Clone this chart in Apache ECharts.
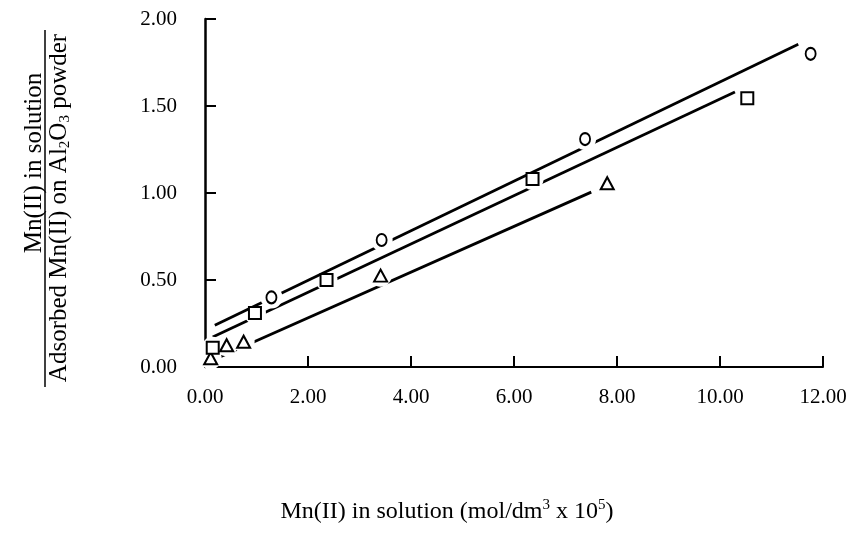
<!DOCTYPE html>
<html>
<head>
<meta charset="utf-8">
<script src="https://cdn.jsdelivr.net/npm/echarts/dist/echarts.min.js"></script>
<style>
  html, body { margin: 0; padding: 0; background: #fff; }
  #chart { width: 854px; height: 541px; }
</style>
</head>
<body>
<div id="chart"></div>
<script>
// 测量点（读图估值）
const circleX = [1.29, 3.43, 7.38, 11.76];
const circleY = [0.40, 0.73, 1.31, 1.80];
const squareX = [0.15, 0.97, 2.36, 6.36, 10.53];
const squareY = [0.11, 0.31, 0.50, 1.08, 1.545];
const triX = [0.11, 0.42, 0.75, 3.41, 7.81];
const triY = [0.05, 0.125, 0.145, 0.525, 1.056];

// 拟合直线端点
const circleFitX = [0.19, 11.52];
const circleFitY = [0.24, 1.855];
const squareFitX = [0.15, 10.29];
const squareFitY = [0.173, 1.58];
const triFitX = [0.19, 7.50];
const triFitY = [0.045, 1.005];

// 刻度
const xTicks = [0, 2, 4, 6, 8, 10, 12];
const yTicks = [0, 0.5, 1, 1.5, 2];

const FONT = 'Liberation Serif, Times New Roman, serif';

function pairs(xs, ys) {
    return xs.map((x, i) => [x, ys[i]]);
}

function fitLine(xs, ys, z) {
    return {
        type: 'line',
        z: z,
        data: pairs(xs, ys),
        symbol: 'none',
        silent: true,
        lineStyle: { color: '#000', width: 2.8 }
    };
}

// 白色光晕, 让直线在点附近断开
function halo(xs, ys, z) {
    return {
        type: 'scatter',
        z: z,
        data: pairs(xs, ys),
        symbol: 'circle',
        symbolSize: 22,
        silent: true,
        itemStyle: { color: '#fff', borderWidth: 0, opacity: 1 }
    };
}

function marker(xs, ys, symbol, size) {
    return {
        type: 'scatter',
        z: 20,
        data: pairs(xs, ys),
        symbol: symbol,
        symbolSize: size,
        silent: true,
        itemStyle: { color: '#fff', borderColor: '#000', borderWidth: 2, opacity: 1 }
    };
}

const chart = echarts.init(document.getElementById('chart'));

const option = {
    animation: false,
    backgroundColor: '#fff',
    grid: { left: 205, right: 31, top: 19, bottom: 174, containLabel: false },
    xAxis: {
        type: 'value',
        min: xTicks[0],
        max: xTicks[xTicks.length - 1],
        interval: 2,
        name: 'Mn(II) in solution (mol/dm{sup|3} x 10{sup|5})',
        nameLocation: 'middle',
        nameGap: 131,
        nameTextStyle: {
            color: '#000', fontFamily: FONT, fontSize: 24,
            padding: [0, 134, 0, 0],
            rich: { sup: { fontFamily: FONT, fontSize: 15, color: '#000', verticalAlign: 'top', lineHeight: 28 } }
        },
        axisLine: { show: true, lineStyle: { color: '#000', width: 2 } },
        axisTick: { show: true, inside: true, length: 11, lineStyle: { color: '#000', width: 2 } },
        axisLabel: {
            color: '#000', fontFamily: FONT, fontSize: 21, margin: 20,
            formatter: v => v.toFixed(2)
        },
        splitLine: { show: false }
    },
    yAxis: {
        type: 'value',
        min: yTicks[0],
        max: yTicks[yTicks.length - 1],
        interval: 0.5,
        axisLine: { show: true, lineStyle: { color: '#000', width: 2.5 } },
        axisTick: { show: true, inside: true, length: 11, lineStyle: { color: '#000', width: 2 } },
        axisLabel: {
            color: '#000', fontFamily: FONT, fontSize: 21, margin: 28,
            formatter: v => v.toFixed(2)
        },
        splitLine: { show: false }
    },
    graphic: [
        {
            type: 'text',
            x: 34, y: 163,
            rotation: Math.PI / 2,
            style: {
                text: 'Mn(II) in solution',
                fontFamily: FONT, fontSize: 25, fill: '#000',
                align: 'center', verticalAlign: 'middle'
            }
        },
        {
            type: 'line',
            shape: { x1: 45, y1: 30, x2: 45, y2: 387 },
            style: { stroke: '#000', lineWidth: 1.5 }
        },
        {
            type: 'text',
            x: 59, y: 208,
            rotation: Math.PI / 2,
            style: {
                text: 'Adsorbed Mn(II) on Al{sub|2}O{sub|3} powder',
                fontFamily: FONT, fontSize: 25, fill: '#000',
                align: 'center', verticalAlign: 'middle',
                rich: { sub: { fontFamily: FONT, fontSize: 15, fill: '#000', verticalAlign: 'bottom', lineHeight: 28 } }
            }
        }
    ],
    series: [
        fitLine(triFitX, triFitY, 3),
        halo(triX, triY, 4),
        fitLine(squareFitX, squareFitY, 5),
        halo(squareX, squareY, 6),
        fitLine(circleFitX, circleFitY, 7),
        halo(circleX, circleY, 8),
        marker(triX, triY, 'triangle', [13, 12]),
        marker(squareX, squareY, 'rect', [12, 12]),
        marker(circleX, circleY, 'circle', [10, 12])
    ]
};

chart.setOption(option);
</script>
</body>
</html>
